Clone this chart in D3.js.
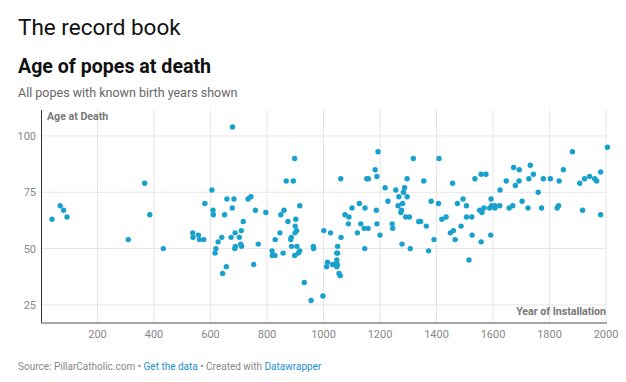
<!DOCTYPE html>
<html>
<head>
<meta charset="utf-8">
<script src="https://cdn.jsdelivr.net/npm/d3@7"></script>
<style>
  body { margin: 0; background: #fff; font-family: Roboto, "Noto Sans", sans-serif; }
  .link { fill: #1d8fcf; }
</style>
</head>
<body>
<svg id="chart" width="626" height="382"></svg>
<script>
// year each pope was installed, and his age at death
var installYears = [39,68,80,92,309,367,385,433,537,538,557,561,576,580,605,609,610,616,619,627,
  640,643,650,656,658,673,677,678,683,686,687,688,702,707,709,710,716,733,743,753,
  759,769,796,818,819,828,829,846,849,857,860,868,874,884,886,887,893,898,898,899,
  900,902,905,906,911,916,916,932,956,964,965,998,1001,1011,1014,1025,1032,1038,1047,1047,
  1047,1049,1050,1050,1055,1059,1061,1062,1076,1088,1090,1101,1120,1127,1132,1144,1146,1147,1153,1158,
  1159,1183,1187,1189,1189,1193,1200,1218,1228,1243,1245,1256,1264,1267,1274,1276,1278,1280,1283,1287,
  1291,1296,1296,1304,1307,1318,1337,1344,1355,1364,1372,1381,1391,1407,1409,1419,1434,1449,1457,1460,
  1466,1474,1487,1494,1506,1506,1515,1525,1526,1536,1553,1558,1558,1561,1568,1575,1588,1592,1593,1595,
  1607,1607,1624,1625,1647,1657,1670,1673,1679,1692,1693,1703,1724,1727,1732,1743,1760,1772,1778,1803,
  1827,1832,1834,1849,1881,1907,1917,1924,1942,1960,1967,1981,1981,2005];
var deathAges = [63,69,67,64,54,79,65,50,57,55,56,54,54,70,76,67,65,48,50,53,
  55,39,65,42,72,55,68,104,72,50,57,51,55,52,58,51,62,72,73,43,
  67,52,66,49,47,47,54,57,65,48,67,80,62,54,55,51,80,90,47,57,
  60,63,58,51,48,49,69,35,27,51,50,29,58,42,44,57,43,43,45,42,
  48,43,48,51,39,38,81,55,65,61,64,68,57,70,61,59,50,68,81,59,
  81,85,67,82,61,93,56,77,71,61,59,76,69,73,66,67,52,70,75,77,
  64,81,73,64,50,90,62,62,80,60,49,71,54,70,90,63,64,57,79,58,
  54,70,60,72,69,64,45,64,56,81,67,83,53,66,68,83,68,56,72,69,
  69,68,69,76,80,68,69,86,78,80,85,71,68,81,87,83,75,68,81,81,
  68,69,80,85,93,79,67,81,82,81,80,84,65,95];

var xTicks = [200,400,600,800,1000,1200,1400,1600,1800,2000];
var yTicks = [25,50,75,100];

var svg = d3.select("#chart");

// header
svg.append("text").attr("x",18).attr("y",35)
  .style("font-size","22.5px").style("fill","#111")
  .text("The record book");
svg.append("text").attr("x",18).attr("y",73)
  .style("font-size","19.6px").style("font-weight","bold").style("fill","#111")
  .text("Age of popes at death");
svg.append("text").attr("x",18).attr("y",97)
  .style("font-size","12.5px").style("fill","#666")
  .text("All popes with known birth years shown");

var x = d3.scaleLinear().domain([0,2000]).range([41,606]);
var y = d3.scaleLinear().domain([17,111.5]).range([323,110]);

// grid
svg.append("g").selectAll("line").data(xTicks).enter().append("line")
  .attr("x1",d => x(d)).attr("x2",d => x(d))
  .attr("y1",110).attr("y2",323)
  .attr("stroke","#e6e6e6").attr("stroke-width",1);
svg.append("g").selectAll("line").data(yTicks).enter().append("line")
  .attr("x1",41).attr("x2",606)
  .attr("y1",d => y(d)).attr("y2",d => y(d))
  .attr("stroke","#e6e6e6").attr("stroke-width",1);

// tick labels
svg.append("g").selectAll("text").data(yTicks).enter().append("text")
  .attr("x",36).attr("y",d => y(d)).attr("dy","0.36em")
  .attr("text-anchor","end")
  .style("font-size","11px").style("fill","#888")
  .text(d => d);
svg.append("g").selectAll("text").data(xTicks).enter().append("text")
  .attr("x",d => x(d)).attr("y",337.5)
  .attr("text-anchor","middle")
  .style("font-size","11px").style("fill","#888")
  .text(d => d);

// axis lines
svg.append("line").attr("x1",41.5).attr("x2",41.5).attr("y1",110).attr("y2",323.5)
  .attr("stroke","#333").attr("stroke-width",1);
svg.append("line").attr("x1",41).attr("x2",607).attr("y1",323).attr("y2",323)
  .attr("stroke","#888").attr("stroke-width",1.5);

// axis titles
svg.append("text").attr("x",47).attr("y",120)
  .style("font-size","10.6px").style("font-weight","bold").style("fill","#777")
  .text("Age at Death");
svg.append("text").attr("x",606).attr("y",314.5).attr("text-anchor","end")
  .style("font-size","10.6px").style("font-weight","bold").style("fill","#777")
  .text("Year of Installation");

// dots
var points = installYears.map(function(d,i){ return {year:d, age:deathAges[i]}; });
svg.append("g").selectAll("circle").data(points).enter().append("circle")
  .attr("cx",d => x(d.year)).attr("cy",d => y(d.age))
  .attr("r",2.7).attr("fill","#18a1cd");

// footer
var foot = svg.append("text").attr("x",18).attr("y",370)
  .style("font-size","10px").style("fill","#888");
foot.append("tspan").text("Source: PillarCatholic.com \u2022 ");
foot.append("tspan").attr("class","link").text("Get the data");
foot.append("tspan").text(" \u2022 Created with ");
foot.append("tspan").attr("class","link").text("Datawrapper");
</script>
</body>
</html>
